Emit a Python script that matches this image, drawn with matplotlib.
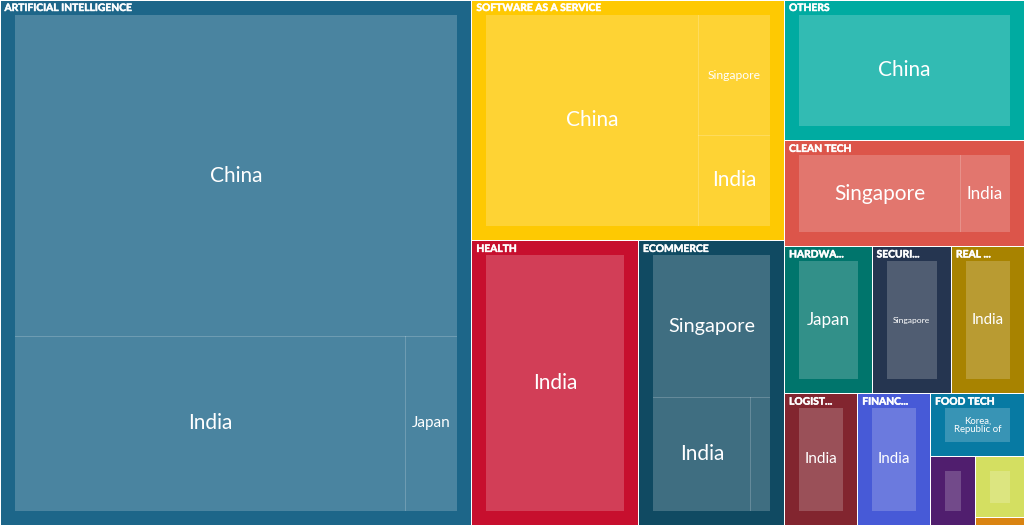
import matplotlib
matplotlib.use("Agg")
import matplotlib.pyplot as plt
import matplotlib.patheffects as pe
from matplotlib.patches import Rectangle

# sectors and the countries inside each one
sectors = ["Artificial Intelligence", "Software as a Service", "Health", "Ecommerce",
           "Others", "Clean Tech", "Hardware", "Security", "Real Estate",
           "Logistics", "Financial Services", "Food Tech", "Education", "Media", "Travel"]
# header text as it is shown (cut with ... where the box is narrow, empty where hidden)
headers = ["ARTIFICIAL INTELLIGENCE", "SOFTWARE AS A SERVICE", "HEALTH", "ECOMMERCE",
           "OTHERS", "CLEAN TECH", "HARDWA...", "SECURI...", "REAL ...",
           "LOGIST...", "FINANC...", "FOOD TECH", "", "", ""]
countries = [
    ["China", "India", "Japan"],
    ["China", "Singapore", "India"],
    ["India"],
    ["Singapore", "India", "Japan"],
    ["China"],
    ["Singapore", "India"],
    ["Japan"],
    ["Singapore"],
    ["India"],
    ["India"],
    ["India"],
    ["Korea, Republic of"],
    ["India"],
    ["Singapore"],
    ["Japan"],
]
amounts = [
    [160, 76, 10],
    [56, 10.7, 8.1],
    [47],
    [23, 15.2, 3.0],
    [33.5],
    [19.3, 5.8],
    [12.8],
    [11.6],
    [10.6],
    [9.55],
    [9.5],
    [5.86],
    [3.06],
    [2.88],
    [0.38],
]

colors = ["#1d6689", "#fec902", "#c70f2e", "#104a62", "#00aba1", "#dc554a", "#00756c",
          "#253550", "#a88300", "#82252f", "#475ad7", "#077aa3", "#501e6e", "#d4df61", "#da8412"]

W, H = 1024, 525
PAD = 15


def binary(vals, x0, y0, x1, y1):
    # port of d3.treemapBinary
    sums = [0]
    for v in vals:
        sums.append(sums[-1] + v)
    out = [None] * len(vals)

    def part(i, j, value, x0, y0, x1, y1):
        if i >= j - 1:
            out[i] = (x0, y0, x1, y1)
            return
        off = sums[i]
        target = value / 2 + off
        k, hi = i + 1, j - 1
        while k < hi:
            mid = (k + hi) // 2
            if sums[mid] < target:
                k = mid + 1
            else:
                hi = mid
        if (target - sums[k - 1]) < (sums[k] - target) and i + 1 < k:
            k -= 1
        left = sums[k] - off
        right = value - left
        if (x1 - x0) > (y1 - y0):
            xk = (x0 * right + x1 * left) / value if value else x1
            part(i, k, left, x0, y0, xk, y1)
            part(k, j, right, xk, y0, x1, y1)
        else:
            yk = (y0 * right + y1 * left) / value if value else y1
            part(i, k, left, x0, y0, x1, yk)
            part(k, j, right, x0, yk, x1, y1)

    part(0, len(vals), sums[-1], x0, y0, x1, y1)
    return out


plt.rcParams['font.family'] = ['Lato', 'DejaVu Sans']
fig = plt.figure(figsize=(W / 100, H / 100), dpi=100)
ax = fig.add_axes([0, 0, 1, 1])
ax.set_xlim(0, W)
ax.set_ylim(H, 0)
ax.axis('off')
renderer = fig.canvas.get_renderer()


def text_w(t):
    bb = t.get_window_extent(renderer)
    return bb.width, bb.height


totals = [sum(a) for a in amounts]
order = sorted(range(len(sectors)), key=lambda i: -totals[i])
rects = binary([totals[i] for i in order], 0, 0, W, H)

for idx, (x0, y0, x1, y1) in zip(order, rects):
    col = colors[idx]
    ax.add_patch(Rectangle((x0 + 0.5, y0 + 0.5), x1 - x0 - 1, y1 - y0 - 1,
                           facecolor=col, edgecolor='none'))
    if headers[idx]:
        ax.text(x0 + 4.5, y0 + 8.5, headers[idx], color='white', fontsize=7.4,
                fontweight='bold', va='center', ha='left',
                path_effects=[pe.withStroke(linewidth=0.35, foreground='white')])

    # countries inside the padded box
    cx0, cy0, cx1, cy1 = x0 + PAD, y0 + PAD, x1 - PAD, y1 - PAD
    if cx1 - cx0 <= 0 or cy1 - cy0 <= 0:
        continue
    sub = sorted(range(len(amounts[idx])), key=lambda j: -amounts[idx][j])
    crects = binary([amounts[idx][j] for j in sub], cx0, cy0, cx1, cy1)
    for j, (a0, b0, a1, b1) in zip(sub, crects):
        ax.add_patch(Rectangle((a0 - 0.5, b0 - 0.5), a1 - a0 + 1, b1 - b0 + 1,
                               facecolor='white', alpha=0.2, edgecolor='none'))
        label = countries[idx][j].replace(", ", ",\n")
        t = ax.text((a0 + a1) / 2, (b0 + b1) / 2, label, color='white', fontsize=15,
                    va='center', ha='center', multialignment='center', linespacing=1.0)
        tw, th = text_w(t)
        s = min(1, 0.75 * (a1 - a0) / tw, 0.8 * (b1 - b0) / th)
        fs = 15 * s
        if fs < 4.6:
            t.remove()
        else:
            t.set_fontsize(fs)

fig.savefig("out.png", dpi=100, facecolor='white')
